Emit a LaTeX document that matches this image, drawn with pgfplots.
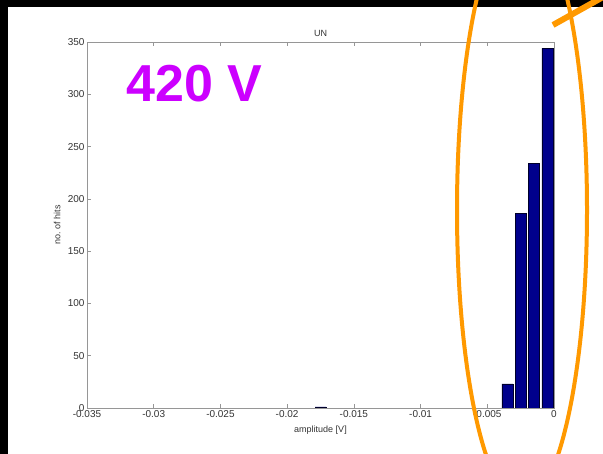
\documentclass[border=0pt]{standalone}
\usepackage{fontspec}
\setmainfont{Liberation Sans}
\usepackage{pgfplots}
\pgfplotsset{compat=1.18}
\definecolor{histblue}{RGB}{0,0,140}
\definecolor{axgray}{RGB}{150,150,150}
\definecolor{markorange}{RGB}{255,153,0}
\definecolor{voltcolor}{RGB}{204,0,255}

\begin{document}
\begin{tikzpicture}
\path[use as bounding box] (0bp,0bp) rectangle (603bp,454bp);
\clip (0bp,0bp) rectangle (603bp,454bp);
\fill[black] (0bp,0bp) rectangle (603bp,454bp);
\fill[white] (8bp,0bp) rectangle (603bp,447bp);
\begin{axis}[
  at={(87bp,46bp)}, anchor=south west,
  width=467bp, height=366bp, scale only axis,
  xmin=-0.035, xmax=0, ymin=0, ymax=350,
  xtick={-0.035,-0.03,-0.025,-0.02,-0.015,-0.01,-0.005,0},
  xticklabels={-0.035,-0.03,-0.025,-0.02,-0.015,-0.01,-0.005,0},
  ytick={0,50,100,150,200,250,300,350},
  scaled x ticks=false,
  tick align=inside, tick pos=both, major tick length=4bp,
  axis line style={axgray, line width=0.8bp},
  tick style={axgray, line width=0.6bp},
  ticklabel style={font=\fontsize{10bp}{12bp}\selectfont, text=black!80},
  /pgf/number format/assume math mode=true,
  xticklabel style={yshift=1bp},
  yticklabel style={xshift=1bp},
  title={UN},
  title style={font=\fontsize{9bp}{11bp}\selectfont, text=black!80, at={(0.5,1)}, anchor=south, yshift=-4bp},
  xlabel={amplitude [V]},
  xlabel style={font=\fontsize{9bp}{11bp}\selectfont, text=black!80, at={(0.5,0)}, anchor=north, yshift=-14bp},
  ylabel={no. of hits},
  ylabel style={font=\fontsize{9bp}{11bp}\selectfont, text=black!80, at={(axis description cs:-0.064,0.5)}, anchor=center},
]
\addplot[ybar, bar width=11bp, fill=histblue, draw=black!70!histblue, line width=0.4bp]
  coordinates {(-0.0175,1) (-0.0035,23) (-0.0025,186) (-0.0015,234) (-0.0005,344)};
\end{axis}
% highlight around the bins near zero
\draw[markorange, line width=4bp] (522bp,244bp) ellipse [x radius=65bp, y radius=294bp];
\draw[markorange, line width=6bp] (553bp,429bp) -- (612bp,462bp);
\node[anchor=base west, text=voltcolor, inner sep=0pt,
      font=\fontsize{52bp}{52bp}\selectfont\bfseries] at (126bp,352bp) {420 V};
\end{tikzpicture}
\end{document}
